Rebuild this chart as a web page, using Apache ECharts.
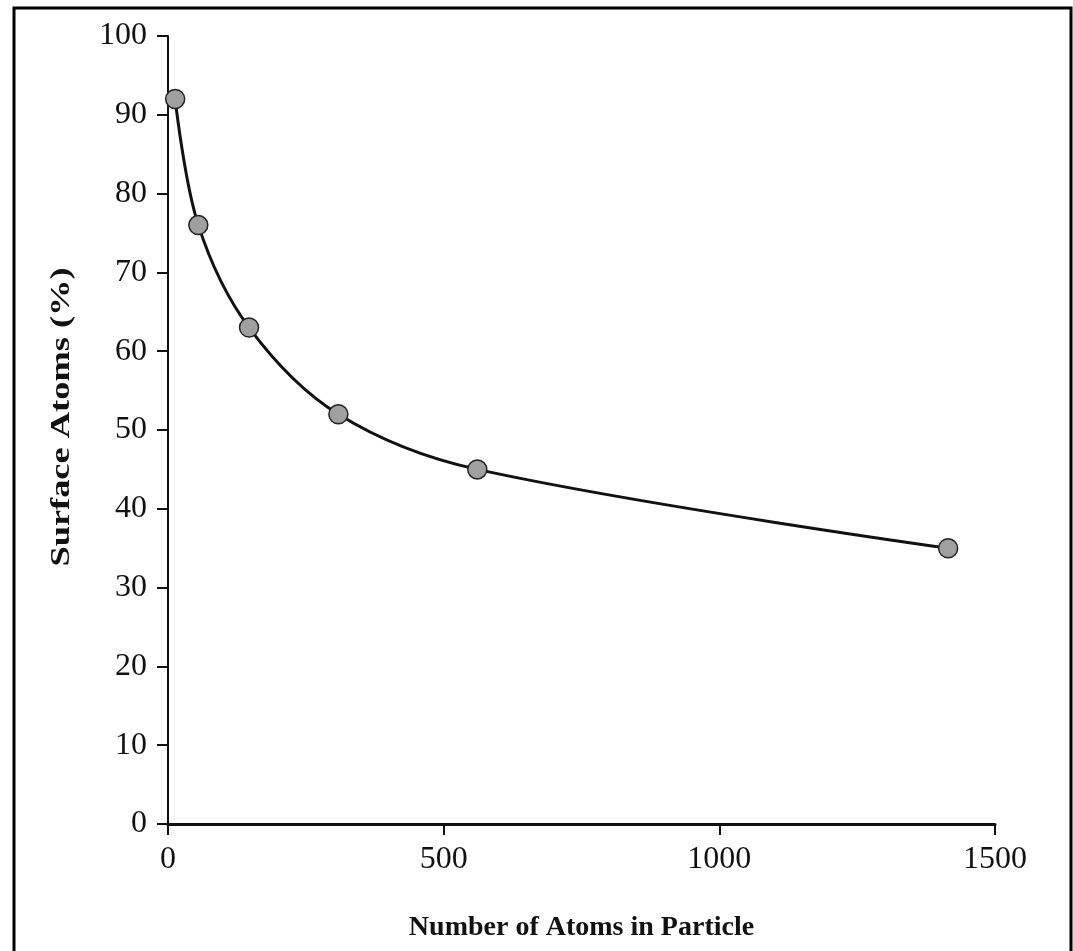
<!DOCTYPE html>
<html>
<head>
<meta charset="utf-8">
<script src="https://cdn.jsdelivr.net/npm/echarts@6/dist/echarts.min.js"></script>
<style>
  html, body { margin: 0; padding: 0; background: #fff; }
  #chart { width: 1073px; height: 951px; }
</style>
</head>
<body>
<div id="chart"></div>
<script>
// Cluster sizes (number of atoms) and share of atoms on the surface
const atomCounts = [13, 55, 147, 309, 561, 1415];
const surfacePercent = [92, 76, 63, 52, 45, 35];
const xTicks = [0, 500, 1000, 1500];
const yTicks = [0, 10, 20, 30, 40, 50, 60, 70, 80, 90, 100];
const xTitle = 'Number of Atoms in Particle';
const yTitle = 'Surface Atoms (%)';

const serif = '"Liberation Serif", "DejaVu Serif", serif';
const points = atomCounts.map((n, i) => [n, surfacePercent[i]]);

const chart = echarts.init(document.getElementById('chart'), null, { renderer: 'canvas' });
chart.setOption({
  backgroundColor: '#fff',
  animation: false,
  graphic: [
    {
      type: 'rect',
      shape: { x: 14, y: 8, width: 1057, height: 960 },
      style: { fill: 'none', stroke: '#000', lineWidth: 3 },
      silent: true
    },
    {
      // vertical axis title, stretched slightly along its reading direction
      type: 'text',
      x: 62,
      y: 417,
      rotation: Math.PI / 2,
      scaleX: 1.3,
      style: {
        text: yTitle,
        font: 'bold 28px ' + serif,
        fill: '#111',
        align: 'center',
        verticalAlign: 'middle'
      },
      silent: true
    }
  ],
  grid: { left: 168, right: 78, top: 36, bottom: 127, containLabel: false },
  xAxis: {
    type: 'value',
    min: xTicks[0],
    max: xTicks[xTicks.length - 1],
    interval: 500,
    name: xTitle,
    nameLocation: 'middle',
    nameGap: 90,
    nameTextStyle: { fontFamily: serif, fontWeight: 'bold', fontSize: 28, color: '#111' },
    axisLine: { lineStyle: { color: '#111', width: 3 } },
    axisTick: { inside: false, length: 11, lineStyle: { color: '#111', width: 2 } },
    axisLabel: {
      fontFamily: serif, fontSize: 32, color: '#111', margin: 20,
      formatter: v => String(v)
    },
    splitLine: { show: false }
  },
  yAxis: {
    type: 'value',
    min: yTicks[0],
    max: yTicks[yTicks.length - 1],
    interval: 10,
    axisLine: { show: true, lineStyle: { color: '#111', width: 2 } },
    axisTick: { show: true, inside: false, length: 11, lineStyle: { color: '#111', width: 2 } },
    axisLabel: { fontFamily: serif, fontSize: 32, color: '#111', margin: 21 },
    splitLine: { show: false }
  },
  series: [{
    type: 'line',
    data: points,
    smooth: 0.35,
    symbol: 'circle',
    symbolSize: 19,
    lineStyle: { color: '#111', width: 3 },
    itemStyle: { color: '#a0a0a0', borderColor: '#222', borderWidth: 1.5 },
    z: 3
  }]
});
</script>
</body>
</html>
